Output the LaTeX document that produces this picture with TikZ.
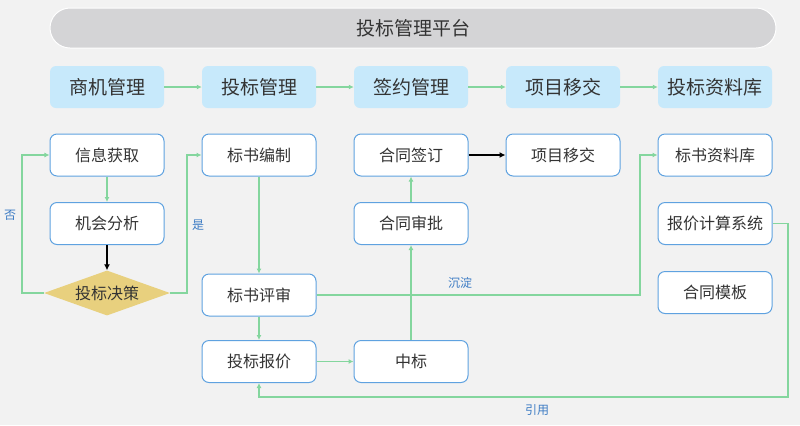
\documentclass[tikz,border=0pt]{standalone}
\usepackage{fontspec}
\setmainfont{Noto Sans CJK SC}
\usepackage{tikz}
\usetikzlibrary{arrows.meta,shapes.geometric}

\definecolor{bggray}{HTML}{F2F2F2}
\definecolor{bargray}{HTML}{D4D4D6}
\definecolor{phaseblue}{HTML}{C7E9FB}
\definecolor{stepline}{HTML}{5FA2E0}
\definecolor{flowgreen}{HTML}{84D69E}
\definecolor{decgold}{HTML}{E8D07E}
\definecolor{notetext}{HTML}{3D7CC4}
\definecolor{textgray}{HTML}{333333}

\begin{document}
\begin{tikzpicture}[x=1bp,y=-1bp,
  phase/.style={fill=phaseblue,rounded corners=6bp,minimum width=114bp,minimum height=42bp,font=\fontsize{19bp}{21bp}\selectfont,text=textgray},
  stepbox/.style={draw=stepline,fill=white,line width=1bp,rounded corners=7bp,minimum width=114bp,minimum height=42bp,font=\fontsize{16bp}{18bp}\selectfont,text=textgray},
  flow/.style={draw=flowgreen,line width=1.2bp,-{Latex[length=5bp,width=5bp]}},
  blackflow/.style={draw=black,line width=1.2bp,-{Latex[length=6bp,width=6bp]}},
  note/.style={text=notetext,font=\fontsize{12bp}{14bp}\selectfont}]

\useasboundingbox [fill=bggray] (0,0) rectangle (800,425);

\node [fill=bargray,draw=white,line width=1bp,rounded corners=20bp,minimum width=726bp,minimum height=40bp,font=\fontsize{19bp}{21bp}\selectfont,text=textgray] (title) at (413,28) {投标管理平台};

% phases
\node [phase] (bizphase) at (107,87) {商机管理};
\node [phase] (bidphase) at (259,87) {投标管理};
\node [phase] (signphase) at (411,87) {签约管理};
\node [phase] (handphase) at (563,87) {项目移交};
\node [phase] (libphase) at (715,87) {投标资料库};

\draw [flow] (bizphase) -- (bidphase);
\draw [flow] (bidphase) -- (signphase);
\draw [flow] (signphase) -- (handphase);
\draw [flow] (handphase) -- (libphase);

% steps
\node [stepbox] (info) at (107,155) {信息获取};
\node [stepbox] (chance) at (107,223.5) {机会分析};
\node [diamond,aspect=2.8,inner sep=0pt,fill=decgold,minimum width=126bp,minimum height=45bp,font=\fontsize{16bp}{18bp}\selectfont,text=textgray] (decide) at (107,293) {投标决策};

\node [stepbox] (write) at (259,155) {标书编制};
\node [stepbox] (review) at (259,295) {标书评审};
\node [stepbox] (quote) at (259,361.5) {投标报价};

\node [stepbox] (sign) at (411,155) {合同签订};
\node [stepbox] (approve) at (411,223.5) {合同审批};
\node [stepbox] (win) at (411,361.5) {中标};

\node [stepbox] (handover) at (563,155) {项目移交};

\node [stepbox] (library) at (715,155) {标书资料库};
\node [stepbox] (pricing) at (715,223.5) {报价计算系统};
\node [stepbox] (template) at (715,292.5) {合同模板};

% connectors
\draw [flow] (info) -- (chance);
\draw [blackflow] (chance) -- (decide);
\draw [flow] (decide.west) -- (22,293) |- (info.west);
\node [note] (no) at (10,215) {否};
\draw [flow] (decide.east) -- (187,293) |- (write.west);
\node [note] (yes) at (198,225) {是};

\draw [flow] (write) -- (review);
\draw [flow] (review) -- (quote);
\draw [flow] (quote) -- (win);
\draw [flow] (win) -- (approve);
\draw [flow] (approve) -- (sign);
\draw [blackflow] (sign) -- (handover);

\draw [flow] (review.east) -- (640,295) |- (library.west);
\node [note] (settle) at (460,283) {沉淀};
\draw [flow] (pricing.east) -| (788,397) -| (quote.south);
\node [note] (cite) at (537,410) {引用};

\end{tikzpicture}
\end{document}
